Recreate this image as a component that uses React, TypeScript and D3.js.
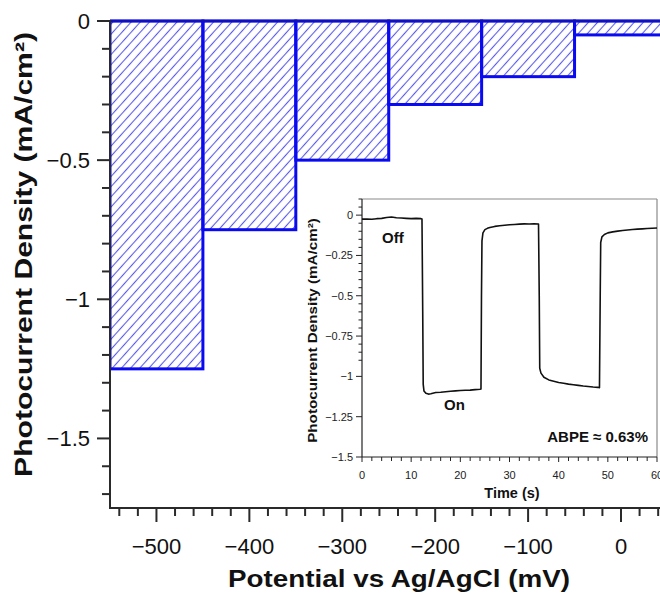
import React, { useLayoutEffect, useRef, useState } from "react";
import * as d3 from "d3";

// Main bar chart data
const potentials = [-500, -400, -300, -200, -100, 0];
const photocurrents = [-1.25, -0.75, -0.5, -0.3, -0.2, -0.05];
const xMajorTicks = [-500, -400, -300, -200, -100, 0];
const yMajorTicks = [0, -0.5, -1, -1.5];

// Inset chopped-light transient data
const insetTime = [
  0, 1, 2, 3, 4, 5, 6, 7, 8, 9, 10, 11, 12, 12.2,
  12.35, 12.45, 12.6, 13, 13.5, 14, 15, 16, 17, 18, 19, 20, 21, 22, 23, 24, 24.2,
  24.3, 24.4, 24.6, 25, 25.5, 26, 27, 28, 29, 30, 31, 32, 33, 34, 35, 35.9,
  36.05, 36.15, 36.4, 37, 38, 39, 40, 41, 42, 43, 44, 45, 46, 47, 48, 48.3,
  48.45, 48.55, 48.8, 49.3, 50, 51, 52, 53, 54, 55, 56, 57, 58, 59, 60,
];
const insetCurrent = [
  -0.025, -0.024, -0.026, -0.022, -0.02, -0.015, -0.012, -0.016, -0.018, -0.02, -0.022, -0.02, -0.022, -0.024,
  -0.6, -1.05, -1.09, -1.105, -1.11, -1.108, -1.1, -1.098, -1.095, -1.092, -1.09, -1.088, -1.086, -1.085, -1.082, -1.08, -1.078,
  -0.5, -0.16, -0.11, -0.09, -0.082, -0.077, -0.07, -0.066, -0.063, -0.06, -0.058, -0.056, -0.054, -0.055, -0.054, -0.055,
  -0.5, -0.95, -0.98, -1.005, -1.022, -1.03, -1.038, -1.043, -1.048, -1.052, -1.056, -1.06, -1.063, -1.066, -1.068, -1.07,
  -0.5, -0.17, -0.135, -0.12, -0.11, -0.104, -0.099, -0.095, -0.092, -0.089, -0.087, -0.085, -0.083, -0.081, -0.08,
];
const insetXTicks = [0, 10, 20, 30, 40, 50, 60];
const insetYTicks = [0, -0.25, -0.5, -0.75, -1, -1.25, -1.5];
const insetYLabels = ["0", "\u22120.25", "\u22120.5", "\u22120.75", "\u22121", "\u22121.25", "\u22121.5"];

const yTitle = "Photocurrent Density (mA/cm\u00B2)";
const xTitle = "Potential vs Ag/AgCl (mV)";

const FONT = "'Liberation Sans', Arial, Helvetica, sans-serif";
const fmt = (v: number) => (v < 0 ? "\u2212" + String(Math.abs(v)) : String(v));

function StretchText(props: {
  cx: number;
  cy: number;
  rotate?: number;
  target: number;
  fontSize: number;
  text: string;
}) {
  const ref = useRef<SVGTextElement>(null);
  const [sx, setSx] = useState(1);
  useLayoutEffect(() => {
    if (ref.current) {
      const w = ref.current.getComputedTextLength();
      if (w > 0) setSx(props.target / w);
    }
  }, [props.target, props.text]);
  return (
    <g transform={`translate(${props.cx}, ${props.cy}) rotate(${props.rotate || 0}) scale(${sx}, 1)`}>
      <text ref={ref} x={0} y={0} textAnchor="middle" fontSize={props.fontSize} fontWeight="bold" fill="#111">
        {props.text}
      </text>
    </g>
  );
}

export default function App() {
  const W = 660;
  const H = 596;
  const x = d3.scaleLinear().domain([-550, 0]).range([110, 621]);
  const y = d3.scaleLinear().domain([-1.75, 0]).range([508, 21]);
  const barW = x(50) - x(-50);

  const xMinor = d3.range(-540, 50, 20).filter((v) => v % 100 !== 0);
  const yMinor = d3.range(0, -1.75, -0.1).map((v) => +v.toFixed(2)).filter((v) => Math.abs(v * 2 - Math.round(v * 2)) > 1e-6);

  // inset
  const ix = d3.scaleLinear().domain([0, 60]).range([362, 657]);
  const iy = d3.scaleLinear().domain([-1.5, 0.1]).range([457, 199]);
  const pts: [number, number][] = insetTime.map((t, i) => [t, insetCurrent[i]]);
  const line = d3.line<[number, number]>().x((d) => ix(d[0])).y((d) => iy(d[1]));
  const ixMinor = d3.range(0, 61, 2).filter((v) => v % 10 !== 0);
  const iyMinor = d3.range(0, 21).map((i) => +(0.1 - i * 0.05).toFixed(2)).filter((v) => Math.abs(v * 4 - Math.round(v * 4)) > 1e-6);

  const axisColor = "#2a2a2a";

  return (
    <svg width={W} height={H} style={{ position: "absolute", left: 0, top: 0, background: "#fff" }} fontFamily={FONT}>
      <defs>
        <pattern id="hatch" patternUnits="userSpaceOnUse" width={6.8} height={10} patternTransform="rotate(42)">
          <line x1={3.4} y1={0} x2={3.4} y2={10} stroke="#5a5ae8" strokeWidth={1.1} />
        </pattern>
        <clipPath id="plotClip">
          <rect x={110} y={0} width={550} height={520} />
        </clipPath>
      </defs>
      <rect x={0} y={0} width={W} height={H} fill="#fff" />

      {/* Bars */}
      <g clipPath="url(#plotClip)">
        {potentials.map((p, i) => (
          <rect
            key={p}
            x={x(p - 50)}
            y={y(0)}
            width={barW}
            height={y(photocurrents[i]) - y(0)}
            fill="url(#hatch)"
            stroke="#0a0af0"
            strokeWidth={3}
          />
        ))}
        <line x1={110} x2={660} y1={y(0)} y2={y(0)} stroke="#1010c0" strokeWidth={2.5} />
      </g>

      {/* Y axis */}
      <line x1={110} x2={110} y1={y(0) - 1} y2={508} stroke={axisColor} strokeWidth={2} />
      {yMajorTicks.map((v) => (
        <g key={v}>
          <line x1={97} x2={110} y1={y(v)} y2={y(v)} stroke={axisColor} strokeWidth={2} />
          <text x={90} y={y(v)} dy="0.35em" textAnchor="end" fontSize={22} fill="#111">
            {fmt(v)}
          </text>
        </g>
      ))}
      {yMinor.map((v) => (
        <line key={v} x1={102} x2={110} y1={y(v)} y2={y(v)} stroke={axisColor} strokeWidth={2} />
      ))}

      {/* X axis */}
      <line x1={109} x2={660} y1={508} y2={508} stroke={axisColor} strokeWidth={2} />
      {xMajorTicks.map((v) => (
        <g key={v}>
          <line x1={x(v)} x2={x(v)} y1={508} y2={522} stroke={axisColor} strokeWidth={2} />
          <text x={x(v)} y={554} textAnchor="middle" fontSize={22} fill="#111">
            {fmt(v)}
          </text>
        </g>
      ))}
      {xMinor.map((v) => (
        <line key={v} x1={x(v)} x2={x(v)} y1={508} y2={516} stroke={axisColor} strokeWidth={2} />
      ))}

      {/* Axis titles */}
      <StretchText cx={399} cy={587} target={342} fontSize={24} text={xTitle} />
      <StretchText cx={32} cy={(32 + 477) / 2} rotate={-90} target={445} fontSize={24} text={yTitle} />

      {/* Inset */}
      <g>
        <line x1={362} x2={657} y1={199} y2={199} stroke="#8a8a8a" strokeWidth={1.2} />
        <line x1={657} x2={657} y1={199} y2={457} stroke="#8a8a8a" strokeWidth={1.2} />
        <line x1={362} x2={362} y1={199} y2={457} stroke="#222" strokeWidth={1.2} />
        <line x1={362} x2={657} y1={457} y2={457} stroke="#222" strokeWidth={1.2} />
        {insetYTicks.map((v, i) => (
          <g key={v}>
            <line x1={356} x2={362} y1={iy(v)} y2={iy(v)} stroke="#222" strokeWidth={1} />
            <text x={353} y={iy(v)} dy="0.35em" textAnchor="end" fontSize={11} fill="#222">
              {insetYLabels[i]}
            </text>
          </g>
        ))}
        {iyMinor.map((v) => (
          <line key={v} x1={358.5} x2={362} y1={iy(v)} y2={iy(v)} stroke="#222" strokeWidth={1} />
        ))}
        {insetXTicks.map((v) => (
          <g key={v}>
            <line x1={ix(v)} x2={ix(v)} y1={457} y2={462} stroke="#222" strokeWidth={1} />
            <text x={ix(v)} y={479} textAnchor="middle" fontSize={11} fill="#222">
              {v}
            </text>
          </g>
        ))}
        {ixMinor.map((v) => (
          <line key={v} x1={ix(v)} x2={ix(v)} y1={457} y2={461} stroke="#222" strokeWidth={1} />
        ))}
        <path d={line(pts) || ""} fill="none" stroke="#111" strokeWidth={1.6} strokeLinejoin="round" />
        <text x={512} y={498} textAnchor="middle" fontSize={14.5} fontWeight="bold" fill="#111">
          Time (s)
        </text>
        <StretchText cx={317} cy={(218 + 443) / 2} rotate={-90} target={225} fontSize={12} text={yTitle} />
        <text x={382} y={243} fontSize={15} fontWeight="bold" fill="#111">Off</text>
        <text x={444} y={410} fontSize={15} fontWeight="bold" fill="#111">On</text>
        <text x={648} y={442} textAnchor="end" fontSize={15} fontWeight="bold" fill="#111">
          ABPE {"\u2248"} 0.63%
        </text>
      </g>
    </svg>
  );
}
